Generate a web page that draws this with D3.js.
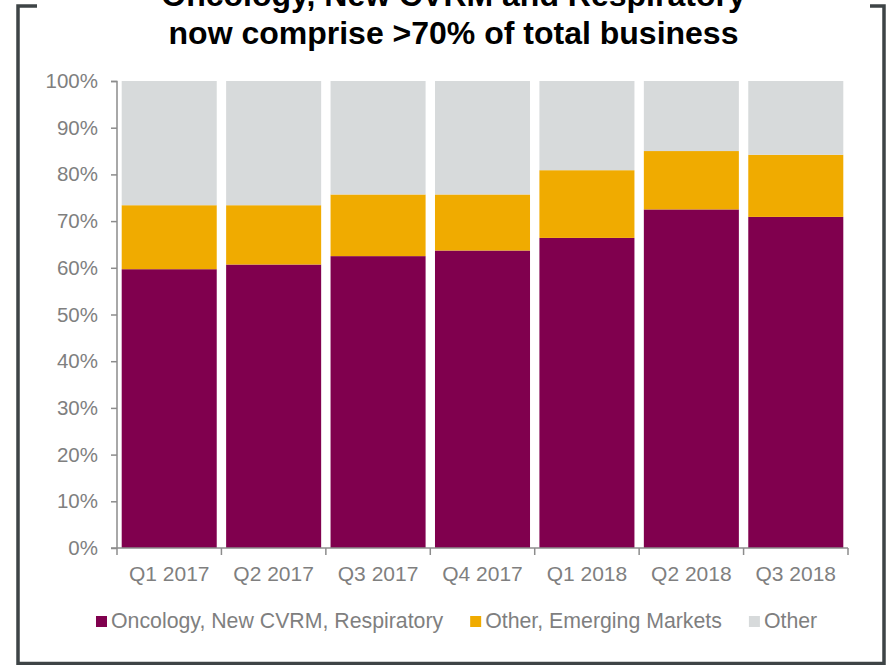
<!DOCTYPE html>
<html>
<head>
<meta charset="utf-8">
<script src="https://cdn.jsdelivr.net/npm/d3@7"></script>
<style>
  html, body { margin: 0; padding: 0; background: #fff; }
  svg { display: block; font-family: "Liberation Sans", Arial, sans-serif; }
</style>
</head>
<body>
<svg id="chart" width="891" height="665"></svg>
<script>
// Quarterly business mix, share of total (%)
const quarters = ["Q1 2017", "Q2 2017", "Q3 2017", "Q4 2017", "Q1 2018", "Q2 2018", "Q3 2018"];
const oncologyCvrmResp = [59.7, 60.7, 62.5, 63.7, 66.4, 72.5, 70.9];
const otherEmerging    = [13.7, 12.7, 13.2, 12.0, 14.5, 12.5, 13.3];
const otherBusiness    = [26.6, 26.6, 24.3, 24.3, 19.1, 15.0, 15.8];
const seriesNames = ["Oncology, New CVRM, Respiratory", "Other, Emerging Markets", "Other"];
const seriesColors = ["#80004e", "#f0ab00", "#d7dadb"];
const yTicks = [0, 10, 20, 30, 40, 50, 60, 70, 80, 90, 100];
const titleLines = ["Oncology, New CVRM and Respiratory", "now comprise >70% of total business"];

const svg = d3.select("#chart");
const textGray = "#7f7f7f";
const axisGray = "#8c8c8c";
const frameColor = "#3e4446";

// Frame: bracket-style box
const frame = svg.append("g").attr("fill", "none").attr("stroke", frameColor).attr("stroke-width", 3.5);
frame.append("path").attr("d", "M37,6 H18 V663.5 H884 V6 H870");

// Title
svg.append("g").selectAll("text").data(titleLines).join("text")
  .attr("x", 453.5)
  .attr("y", (d, i) => 6 + i * 37.5)
  .attr("text-anchor", "middle")
  .attr("font-weight", "bold")
  .attr("font-size", 32)
  .attr("fill", "#000")
  .text(d => d);

// Scales
const x = d3.scaleBand().domain(quarters).range([117, 848]).paddingInner(0.09).paddingOuter(0.045);
const y = d3.scaleLinear().domain([0, 100]).range([548, 81]);

// Stack the three series
const rows = quarters.map((q, i) => ({
  quarter: q,
  s0: oncologyCvrmResp[i],
  s1: otherEmerging[i],
  s2: otherBusiness[i]
}));
const stacked = d3.stack().keys(["s0", "s1", "s2"])(rows);

svg.append("g").selectAll("g").data(stacked).join("g")
  .attr("fill", (d, i) => seriesColors[i])
  .selectAll("rect").data(d => d).join("rect")
  .attr("x", d => x(d.data.quarter))
  .attr("width", x.bandwidth())
  .attr("y", d => y(d[1]))
  .attr("height", d => y(d[0]) - y(d[1]));

// Y axis
const yAxis = svg.append("g")
  .attr("transform", "translate(117,0)")
  .call(d3.axisLeft(y).tickValues(yTicks).tickFormat(d => d + "%").tickSize(6).tickPadding(13));
yAxis.select(".domain").attr("stroke", axisGray).attr("stroke-width", 1.5).attr("d", "M-6,81.5H0V548");
yAxis.selectAll(".tick line").attr("stroke", axisGray).attr("stroke-width", 1.5);
yAxis.selectAll(".tick text").attr("fill", textGray).attr("font-size", 20.5)
  .attr("font-family", "'Liberation Sans', Arial, sans-serif");

// X axis with ticks on band boundaries
const xAxis = svg.append("g").attr("transform", "translate(0,548)");
xAxis.append("line").attr("x1", 111).attr("x2", 848).attr("stroke", axisGray).attr("stroke-width", 1.5);
const boundaries = quarters.map(q => x(q) - x.step() * x.paddingOuter()).concat([848]);
xAxis.selectAll("line.tk").data(boundaries).join("line").attr("class", "tk")
  .attr("x1", d => d).attr("x2", d => d).attr("y1", 0).attr("y2", 7)
  .attr("stroke", axisGray).attr("stroke-width", 1.5);
xAxis.selectAll("text").data(quarters).join("text")
  .attr("x", d => x(d) + x.bandwidth() / 2)
  .attr("y", 33)
  .attr("text-anchor", "middle")
  .attr("font-size", 21)
  .attr("fill", textGray)
  .text(d => d);

// Legend
const legend = svg.append("g").attr("transform", "translate(96,628)");
let lx = 0;
seriesNames.forEach((name, i) => {
  const item = legend.append("g").attr("transform", `translate(${lx},0)`);
  item.append("rect").attr("x", 0).attr("y", -12).attr("width", 11).attr("height", 11).attr("fill", seriesColors[i]);
  const t = item.append("text").attr("x", 15).attr("y", 0).attr("font-size", 21.3).attr("fill", textGray).text(name);
  lx += 15 + t.node().getComputedTextLength() + 27;
});
</script>
</body>
</html>
